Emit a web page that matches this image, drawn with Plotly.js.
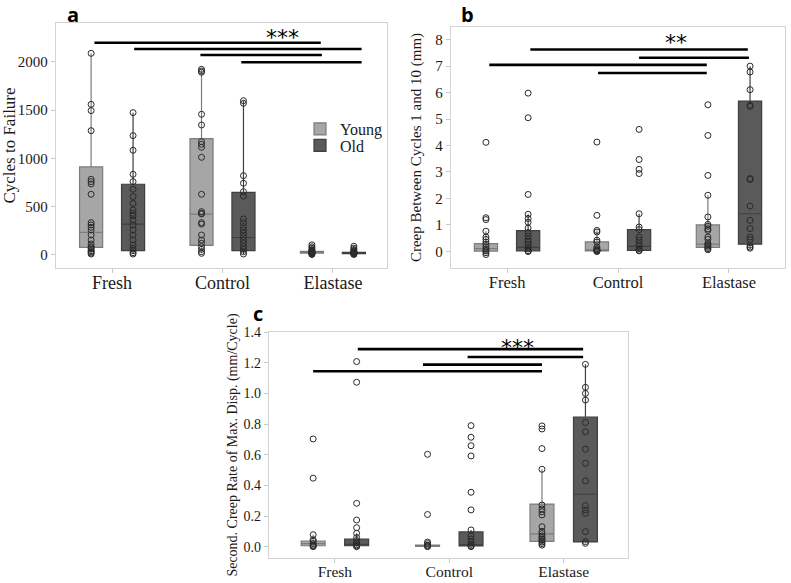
<!DOCTYPE html>
<html><head><meta charset="utf-8">
<script src="https://cdn.plot.ly/plotly-3.0.1.min.js"></script>
<style>html,body{margin:0;padding:0;background:#fff}#chart{width:791px;height:583px}</style>
</head><body><div id="chart"></div>
<script>
const categories = ['Fresh', 'Control', 'Elastase'];
const groupNames = ['Young', 'Old'];

// ---- Panel a: Cycles to Failure ----
const aYoungPts = [
  [2090, 1561, 1496, 1288, 784, 760, 736, 629, 335, 311, 287, 259, 207, 155, 114, 86, 62, 34, 10, 20, 45, 75],
  [1924, 1907, 1893, 1458, 1347, 1174, 1147, 1116, 1012, 629, 449, 432, 425, 335, 320, 207, 155, 121, 86, 59, 34, 17],
  [105, 85, 70, 55, 45, 40, 35, 30, 28, 25, 22, 20, 15, 10, 5]
];
const aOldPts = [
  [1475, 1237, 1085, 836, 760, 681, 605, 535, 466, 432, 404, 363, 311, 259, 207, 155, 104, 69, 45, 24, 10],
  [1599, 1572, 822, 743, 656, 611, 373, 335, 294, 259, 225, 190, 155, 121, 86, 59, 34, 10],
  [90, 70, 55, 45, 35, 30, 25, 22, 20, 18, 15, 12, 10, 5]
];
const aYoungQ1 = [79, 100, 20], aYoungMed = [235, 423, 28], aYoungQ3 = [912, 1206, 38], aYoungLo = [10, 17, 5], aYoungHi = [2090, 1924, 105];
const aOldQ1 = [45, 45, 15], aOldMed = [320, 181, 21], aOldQ3 = [733, 649, 28], aOldLo = [10, 10, 5], aOldHi = [1475, 1599, 90];

// ---- Panel b: Creep Between Cycles 1 and 10 (mm) ----
const bYoungPts = [
  [4.12, 1.27, 1.20, 0.76, 0.54, 0.45, 0.35, 0.26, 0.16, 0.08, 0.02, -0.05, -0.12],
  [4.13, 1.36, 0.79, 0.73, 0.42, 0.35, 0.16, 0.10, 0.06, 0.04, 0.02, 0.0, 0.0],
  [5.54, 4.38, 2.87, 2.12, 1.30, 1.02, 0.95, 0.85, 0.79, 0.54, 0.45, 0.30, 0.25, 0.20, 0.15, 0.10, 0.06]
];
const bOldPts = [
  [5.98, 5.05, 2.15, 1.40, 1.24, 1.10, 0.88, 0.71, 0.58, 0.45, 0.35, 0.26, 0.16, 0.09, 0.02, 0.0, 0.0],
  [4.61, 3.47, 3.10, 2.94, 1.42, 0.92, 0.82, 0.54, 0.42, 0.29, 0.19, 0.10, 0.04, 0.02],
  [7.00, 6.78, 6.11, 5.52, 5.48, 2.75, 2.72, 1.71, 1.17, 0.86, 0.54, 0.44, 0.23, 0.16, 0.12]
];
const bYoungQ1 = [0.01, 0.02, 0.15], bYoungMed = [0.10, 0.06, 0.27], bYoungQ3 = [0.29, 0.36, 1.00], bYoungLo = [-0.12, 0.0, 0.06], bYoungHi = [0.76, 0.79, 2.12];
const bOldQ1 = [0.02, 0.04, 0.27], bOldMed = [0.15, 0.19, 1.42], bOldQ3 = [0.78, 0.82, 5.68], bOldLo = [0.0, 0.02, 0.12], bOldHi = [1.40, 1.42, 7.00];

// ---- Panel c: Second. Creep Rate of Max. Disp. (mm/Cycle) ----
const cYoungPts = [
  [0.703, 0.447, 0.078, 0.045, 0.035, 0.02, 0.01, 0.005, 0.0],
  [0.603, 0.21, 0.03, 0.02, 0.01, 0.005, 0.0],
  [0.788, 0.768, 0.64, 0.505, 0.272, 0.246, 0.228, 0.207, 0.13, 0.10, 0.085, 0.07, 0.06, 0.05, 0.04, 0.03, 0.02, 0.01]
];
const cOldPts = [
  [1.208, 1.073, 0.283, 0.174, 0.124, 0.087, 0.059, 0.04, 0.025, 0.012, 0.005, 0.0],
  [0.79, 0.714, 0.659, 0.592, 0.355, 0.24, 0.109, 0.07, 0.05, 0.03, 0.015, 0.005, 0.0],
  [1.19, 1.04, 1.0, 0.957, 0.81, 0.75, 0.636, 0.544, 0.429, 0.268, 0.24, 0.218, 0.098, 0.033, 0.022]
];
const cYoungQ1 = [0.006, 0.002, 0.035], cYoungMed = [0.02, 0.006, 0.083], cYoungQ3 = [0.037, 0.011, 0.278], cYoungLo = [0.0, 0.0, 0.01], cYoungHi = [0.078, 0.03, 0.505];
const cOldQ1 = [0.006, 0.005, 0.031], cOldMed = [0.015, 0.012, 0.342], cOldQ3 = [0.05, 0.096, 0.845], cOldLo = [0.0, 0.0, 0.022], cOldHi = [0.087, 0.109, 1.19];

// ---- significance bars (category positions and value level) ----
const aSigFrom = [-0.16, 0.2, 0.8, 1.17], aSigTo = [1.89, 2.26, 1.9, 2.26], aSigY = [2200, 2135, 2072, 1998];
const bSigFrom = [0.21, 1.19, -0.16, 0.82], bSigTo = [2.17, 2.18, 1.8, 1.8], bSigY = [7.63, 7.32, 7.05, 6.74];
const cSigFrom = [0.2, 1.16, 0.77, -0.19], cSigTo = [2.17, 2.17, 1.81, 1.81], cSigY = [1.289, 1.238, 1.188, 1.145];

const youngFill = '#a6a6a6', oldFill = '#5a5a5a';
const youngLine = '#7c7c7c', oldLine = '#3f3f3f';
const serif = 'Liberation Serif';

function boxTrace(name, xa, ya, pts, q1, med, q3, lo, hi, fill, line, showlegend, legendId) {
  return {
    type: 'box', name: name, x: categories, y: pts,
    q1: q1, median: med, q3: q3, lowerfence: lo, upperfence: hi,
    xaxis: xa, yaxis: ya, offsetgroup: name, legendgroup: name, showlegend: showlegend,
    legend: legendId,
    boxpoints: 'all', pointpos: 0, jitter: 0, whiskerwidth: 0,
    fillcolor: fill, line: {color: line, width: 1.2},
    marker: {size: 6, color: 'rgba(0,0,0,0)', line: {color: '#2a2a2a', width: 1}},
    hoverinfo: 'y'
  };
}

const data = [
  boxTrace('Young', 'x', 'y', aYoungPts, aYoungQ1, aYoungMed, aYoungQ3, aYoungLo, aYoungHi, youngFill, youngLine, true, 'legend'),
  boxTrace('Old', 'x', 'y', aOldPts, aOldQ1, aOldMed, aOldQ3, aOldLo, aOldHi, oldFill, oldLine, true, 'legend2'),
  boxTrace('Young', 'x2', 'y2', bYoungPts, bYoungQ1, bYoungMed, bYoungQ3, bYoungLo, bYoungHi, youngFill, youngLine, false, 'legend'),
  boxTrace('Old', 'x2', 'y2', bOldPts, bOldQ1, bOldMed, bOldQ3, bOldLo, bOldHi, oldFill, oldLine, false, 'legend2'),
  boxTrace('Young', 'x3', 'y3', cYoungPts, cYoungQ1, cYoungMed, cYoungQ3, cYoungLo, cYoungHi, youngFill, youngLine, false, 'legend'),
  boxTrace('Old', 'x3', 'y3', cOldPts, cOldQ1, cOldMed, cOldQ3, cOldLo, cOldHi, oldFill, oldLine, false, 'legend2')
];

const W = 791, H = 583;
function px2x(p) { return p / W; }
function px2y(p) { return 1 - p / H; }

function xAxis(domain, range, anchor, fsize, standoff) {
  return {
    domain: domain, range: range, anchor: anchor, type: 'category',
    showline: true, mirror: true, linecolor: '#d4d4d4', linewidth: 1.2,
    ticks: 'outside', ticklen: 4, tickcolor: '#c8c8c8', tickwidth: 1,
    showgrid: false, zeroline: false, ticklabelstandoff: standoff,
    tickfont: {family: serif, size: fsize, color: '#1a1a1a'}
  };
}
function yAxis(domain, range, anchor, tickvals, ticktext, title, tsize, fsize, standoff) {
  return {
    domain: domain, range: range, anchor: anchor,
    showline: true, mirror: true, linecolor: '#d4d4d4', linewidth: 1.2,
    ticks: 'outside', ticklen: 4, tickcolor: '#c8c8c8', tickwidth: 1,
    showgrid: false, zeroline: false,
    tickvals: tickvals, ticktext: ticktext,
    tickfont: {family: serif, size: fsize, color: '#1a1a1a'},
    title: {text: title, font: {family: serif, size: tsize, color: '#1a1a1a'}, standoff: standoff}
  };
}

const shapes = [];
function addSig(xref, yref, from, to, lev) {
  for (let i = 0; i < from.length; i++) {
    shapes.push({type: 'line', xref: xref, yref: yref, x0: from[i], x1: to[i], y0: lev[i], y1: lev[i],
      line: {color: '#000', width: 2.6}});
  }
}
addSig('x', 'y', aSigFrom, aSigTo, aSigY);
addSig('x2', 'y2', bSigFrom, bSigTo, bSigY);
addSig('x3', 'y3', cSigFrom, cSigTo, cSigY);

const starFont = {family: 'DejaVu Sans', size: 22, color: '#000'};
const letterFont = {family: 'Open Sans', size: 20, color: '#000', weight: 'bold'};
const legendFont = {family: serif, size: 16, color: '#1a1a1a'};

const layout = {
  width: W, height: H,
  margin: {l: 0, r: 0, t: 0, b: 0},
  font: {family: serif, color: '#1a1a1a'},
  paper_bgcolor: '#fff', plot_bgcolor: '#fff',
  boxmode: 'group', boxgap: 0.24, boxgroupgap: 0.45,
  showlegend: true,
  legend: {x: px2x(300), y: px2y(129), xanchor: 'left', yanchor: 'middle',
    font: legendFont, bgcolor: 'rgba(0,0,0,0)', itemwidth: 30},
  legend2: {x: px2x(300), y: px2y(145.5), xanchor: 'left', yanchor: 'middle',
    font: legendFont, bgcolor: 'rgba(0,0,0,0)', itemwidth: 30},
  xaxis: xAxis([px2x(56), px2x(387)], [-0.508, 2.49], 'y', 18, -6),
  yaxis: yAxis([px2y(268), px2y(23)], [-135, 2404], 'x', [0, 500, 1000, 1500, 2000], ['0', '500', '1000', '1500', '2000'], 'Cycles to Failure', 17, 15, 4),
  xaxis2: xAxis([px2x(451), px2x(785)], [-0.505, 2.505], 'y2', 16.5, -5),
  yaxis2: yAxis([px2y(268), px2y(27)], [-0.63, 8.48], 'x2', [0, 1, 2, 3, 4, 5, 6, 7, 8], ['0', '1', '2', '3', '4', '5', '6', '7', '8'], 'Creep Between Cycles 1 and 10 (mm)', 15, 15, 10),
  xaxis3: xAxis([px2x(269), px2x(628)], [-0.576, 2.562], 'y3', 15.5, -5),
  yaxis3: yAxis([px2y(558), px2y(332)], [-0.074, 1.401], 'x3', [0, 0.2, 0.4, 0.6, 0.8, 1.0, 1.2, 1.4], ['0.0', '0.2', '0.4', '0.6', '0.8', '1.0', '1.2', '1.4'], 'Second. Creep Rate of Max. Disp. (mm/Cycle)', 14, 14, 2),
  shapes: shapes,
  annotations: [
    {text: '***', xref: 'paper', yref: 'paper', x: px2x(282), y: px2y(37), xanchor: 'center', yanchor: 'middle', showarrow: false, font: starFont},
    {text: '**', xref: 'paper', yref: 'paper', x: px2x(676), y: px2y(42), xanchor: 'center', yanchor: 'middle', showarrow: false, font: starFont},
    {text: '***', xref: 'paper', yref: 'paper', x: px2x(517), y: px2y(347), xanchor: 'center', yanchor: 'middle', showarrow: false, font: starFont},
    {text: '<b>a</b>', xref: 'paper', yref: 'paper', x: px2x(72.5), y: 1, xanchor: 'center', yanchor: 'top', borderpad: 0, showarrow: false, font: letterFont},
    {text: '<b>b</b>', xref: 'paper', yref: 'paper', x: px2x(467.5), y: 1, xanchor: 'center', yanchor: 'top', borderpad: 0, showarrow: false, font: letterFont},
    {text: '<b>c</b>', xref: 'paper', yref: 'paper', x: px2x(258), y: px2y(314), xanchor: 'center', yanchor: 'middle', showarrow: false, font: letterFont}
  ]
};

Plotly.newPlot('chart', data, layout, {displayModeBar: false, staticPlot: true});
</script>
</body></html>
